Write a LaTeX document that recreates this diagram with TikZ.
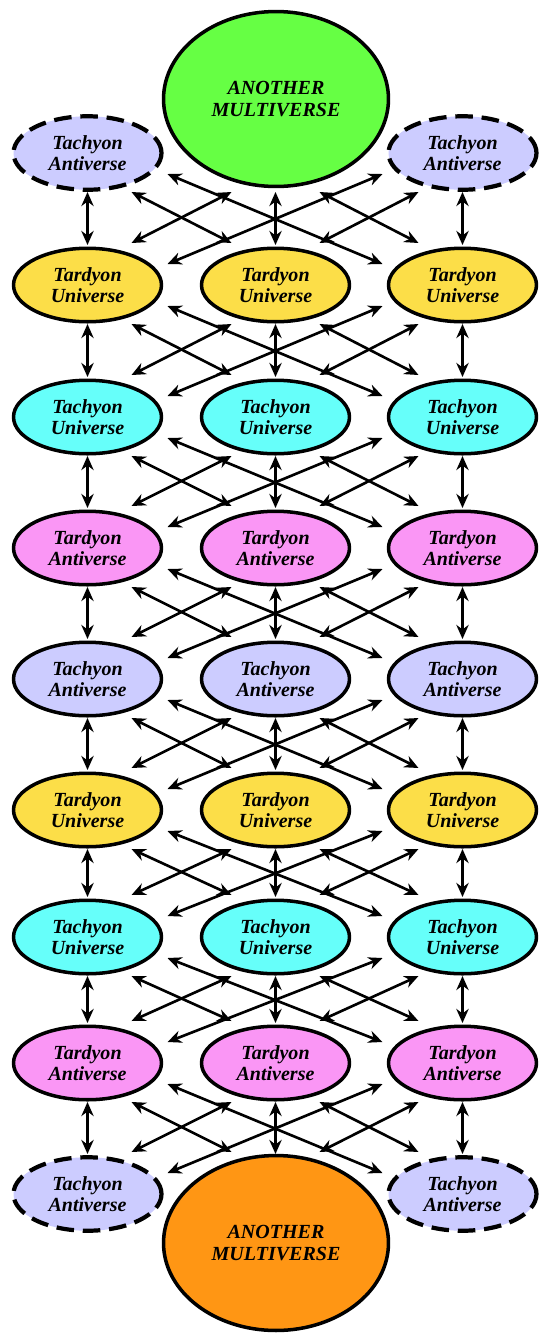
\documentclass[tikz,border=0pt]{standalone}
\usepackage{fontspec}
\setmainfont{Liberation Serif}
\usepackage{tikz}
\usetikzlibrary{arrows.meta,shapes.geometric}
\tikzset{
  every picture/.style={line join=round, >=Stealth},
  verse/.style={ellipse, draw, line width=2pt, minimum width=2.96cm, minimum height=1.47cm, inner sep=0pt, align=center, font=\fontsize{11.4}{12}\selectfont\bfseries\itshape},
  farverse/.style={verse, line width=2.4pt, dash pattern=on 10pt off 5pt},
  multiverse/.style={verse, minimum width=4.5cm, minimum height=3.5cm},
  link/.style={<->, line width=1.5pt},
}
\definecolor{mvgreen}{RGB}{102,255,68}
\definecolor{mvorange}{RGB}{255,150,20}
\definecolor{tardyuni}{RGB}{252,222,72}
\definecolor{tachyuni}{RGB}{102,255,250}
\definecolor{tardyanti}{RGB}{250,150,245}
\definecolor{tachanti}{RGB}{204,204,255}

\begin{document}
\begin{tikzpicture}[x=0.02cm,y=-0.02cm,>={Stealth[length=8pt,width=7pt]}]
\useasboundingbox(0,0)rectangle(539,1340);
\path(276,99)node[multiverse,fill=mvgreen](top){ANOTHER\\MULTIVERSE}
(87.5,153)node[farverse,fill=tachanti](n-0-1){Tachyon\\Antiverse}
(462.5,153)node[farverse,fill=tachanti](n-0-3){Tachyon\\Antiverse};
\coordinate(n-0-2)at(275.5,153);
\path(87.5,285)node[verse,fill=tardyuni](n-1-1){Tardyon\\Universe}
(275.5,285)node[verse,fill=tardyuni](n-1-2){Tardyon\\Universe}
(462.5,285)node[verse,fill=tardyuni](n-1-3){Tardyon\\Universe};
\path(87.5,417)node[verse,fill=tachyuni](n-2-1){Tachyon\\Universe}
(275.5,417)node[verse,fill=tachyuni](n-2-2){Tachyon\\Universe}
(462.5,417)node[verse,fill=tachyuni](n-2-3){Tachyon\\Universe};
\path(87.5,548)node[verse,fill=tardyanti](n-3-1){Tardyon\\Antiverse}
(275.5,548)node[verse,fill=tardyanti](n-3-2){Tardyon\\Antiverse}
(462.5,548)node[verse,fill=tardyanti](n-3-3){Tardyon\\Antiverse};
\path(87.5,679)node[verse,fill=tachanti](n-4-1){Tachyon\\Antiverse}
(275.5,679)node[verse,fill=tachanti](n-4-2){Tachyon\\Antiverse}
(462.5,679)node[verse,fill=tachanti](n-4-3){Tachyon\\Antiverse};
\path(87.5,810)node[verse,fill=tardyuni](n-5-1){Tardyon\\Universe}
(275.5,810)node[verse,fill=tardyuni](n-5-2){Tardyon\\Universe}
(462.5,810)node[verse,fill=tardyuni](n-5-3){Tardyon\\Universe};
\path(87.5,937)node[verse,fill=tachyuni](n-6-1){Tachyon\\Universe}
(275.5,937)node[verse,fill=tachyuni](n-6-2){Tachyon\\Universe}
(462.5,937)node[verse,fill=tachyuni](n-6-3){Tachyon\\Universe};
\path(87.5,1063)node[verse,fill=tardyanti](n-7-1){Tardyon\\Antiverse}
(275.5,1063)node[verse,fill=tardyanti](n-7-2){Tardyon\\Antiverse}
(462.5,1063)node[verse,fill=tardyanti](n-7-3){Tardyon\\Antiverse};
\path(276,1243)node[multiverse,fill=mvorange](bot){ANOTHER\\MULTIVERSE}
(87.5,1194)node[farverse,fill=tachanti](n-8-1){Tachyon\\Antiverse}
(462.5,1194)node[farverse,fill=tachanti](n-8-3){Tachyon\\Antiverse};
\coordinate(n-8-2)at(275.5,1194);
% links between one row and the next
\foreach \r in {0,...,7}{
  \pgfmathtruncatemacro\s{\r+1}
  \foreach \c in {1,2,3}
    \draw[link]([shift={(0,39)}]n-\r-\c.center)--([shift={(0,-40)}]n-\s-\c.center);
  \draw[link]([shift={(44,39)}]n-\r-1.center)--([shift={(-44,-42)}]n-\s-2.center);
  \draw[link]([shift={(-44,39)}]n-\r-2.center)--([shift={(44,-42)}]n-\s-1.center);
  \draw[link]([shift={(44,39)}]n-\r-2.center)--([shift={(-44,-42)}]n-\s-3.center);
  \draw[link]([shift={(-44,39)}]n-\r-3.center)--([shift={(44,-42)}]n-\s-2.center);
  \draw[link]([shift={(80,21)}]n-\r-1.center)--([shift={(-80,-21)}]n-\s-3.center);
  \draw[link]([shift={(-80,21)}]n-\r-3.center)--([shift={(80,-21)}]n-\s-1.center);
}
\end{tikzpicture}
\end{document}
